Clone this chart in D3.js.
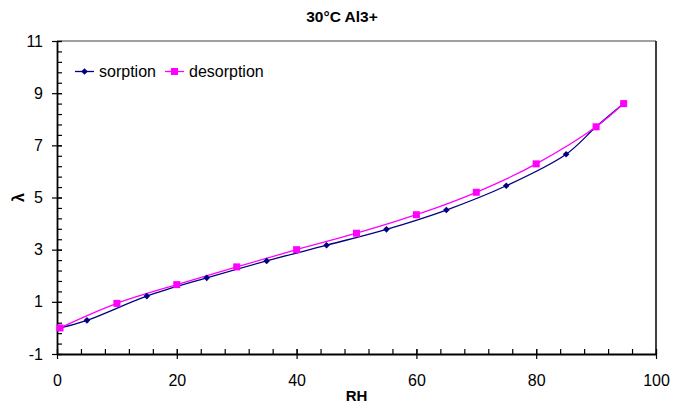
<!DOCTYPE html>
<html>
<head>
<meta charset="utf-8">
<script src="https://cdn.jsdelivr.net/npm/d3@7"></script>
<style>
  body { margin: 0; background: #fff; }
  svg { display: block; font-family: "Liberation Sans", Arial, sans-serif; }
</style>
</head>
<body>
<svg id="chart" width="690" height="410"></svg>
<script>
const title = "30°C Al3+";
const xLabel = "RH";
const yLabel = "λ";
const seriesNames = ["sorption", "desorption"];
const sorptionRH = [0.5, 5, 15, 25, 35, 45, 55, 65, 75, 85, 90, 94.6];
const sorptionL  = [0.0, 0.29, 1.22, 1.92, 2.57, 3.17, 3.78, 4.52, 5.45, 6.66, 7.71, 8.6];
const desorptionRH = [0.5, 10, 20, 30, 40, 50, 60, 70, 80, 90, 94.6];
const desorptionL  = [0.0, 0.94, 1.66, 2.34, 3.0, 3.63, 4.34, 5.2, 6.29, 7.71, 8.6];
const xTicks = [0, 20, 40, 60, 80, 100];
const yTicks = [-1, 1, 3, 5, 7, 9, 11];

const svg = d3.select("#chart");
const L = 57, R = 656, T = 41, B = 354;
const x = d3.scaleLinear().domain([0, 100]).range([L, R]);
const y = d3.scaleLinear().domain([-1, 11]).range([B, T]);

// frame: top gray, right black
svg.append("line").attr("x1", L).attr("x2", R).attr("y1", T).attr("y2", T)
  .attr("stroke", "#808080").attr("stroke-width", 1.5);
svg.append("line").attr("x1", R).attr("x2", R).attr("y1", T).attr("y2", B)
  .attr("stroke", "#000").attr("stroke-width", 1.5);

// minor ticks (inside)
const xMinor = d3.range(0, 100.001, 4);
const yMinor = d3.range(-1, 11.001, 0.4);
const xMinorAxis = d3.axisTop(x).tickValues(xMinor).tickSize(5).tickFormat("");
const gxm = svg.append("g").attr("transform", `translate(0,${B})`).call(xMinorAxis);
gxm.select(".domain").remove();
gxm.selectAll("line").attr("stroke", "#000").attr("stroke-width", 1.2);
const yMinorAxis = d3.axisRight(y).tickValues(yMinor).tickSize(5).tickFormat("");
const gym = svg.append("g").attr("transform", `translate(${L},0)`).call(yMinorAxis);
gym.select(".domain").remove();
gym.selectAll("line").attr("stroke", "#000").attr("stroke-width", 1.2);

// major axes (crossing ticks)
const fmt = d => String(d);
const xAxis = d3.axisBottom(x).tickValues(xTicks).tickSizeInner(5).tickSizeOuter(0).tickPadding(16).tickFormat(fmt);
const gx = svg.append("g").attr("transform", `translate(0,${B})`).call(xAxis);
gx.selectAll(".tick line").attr("y1", -5).attr("stroke", "#000").attr("stroke-width", 1.2);
gx.select(".domain").attr("stroke", "#000").attr("stroke-width", 1.8);
gx.selectAll("text").attr("font-size", 16).attr("fill", "#000").attr("font-family", "Liberation Sans, Arial, sans-serif");

const yAxis = d3.axisLeft(y).tickValues(yTicks).tickSizeInner(5).tickSizeOuter(0).tickPadding(9).tickFormat(fmt);
const gy = svg.append("g").attr("transform", `translate(${L},0)`).call(yAxis);
gy.selectAll(".tick line").attr("x1", 5).attr("stroke", "#000").attr("stroke-width", 1.2);
gy.select(".domain").attr("stroke", "#000").attr("stroke-width", 1.8);
gy.selectAll("text").attr("font-size", 16).attr("fill", "#000").attr("font-family", "Liberation Sans, Arial, sans-serif");

// series
const sorption = sorptionRH.map((v, i) => ({ x: v, y: sorptionL[i] }));
const desorption = desorptionRH.map((v, i) => ({ x: v, y: desorptionL[i] }));
const line = d3.line().x(d => x(d.x)).y(d => y(d.y)).curve(d3.curveCatmullRom.alpha(0.5));

const navy = "#000080", magenta = "#FF00FF";
svg.append("path").datum(sorption).attr("d", line).attr("fill", "none").attr("stroke", navy).attr("stroke-width", 1.3);
svg.append("path").datum(desorption).attr("d", line).attr("fill", "none").attr("stroke", magenta).attr("stroke-width", 1.3);

const diamond = d3.symbol().type(d3.symbolSquare).size(22);
svg.append("g").selectAll("path").data(sorption).join("path")
  .attr("d", diamond).attr("transform", d => `translate(${x(d.x)},${y(d.y)}) rotate(45)`).attr("fill", navy);
svg.append("g").selectAll("rect").data(desorption).join("rect")
  .attr("x", d => x(d.x) - 3.5).attr("y", d => y(d.y) - 3.5).attr("width", 7).attr("height", 7).attr("fill", magenta);

// legend
const lg = svg.append("g");
lg.append("line").attr("x1", 75).attr("x2", 94).attr("y1", 71.5).attr("y2", 71.5).attr("stroke", navy).attr("stroke-width", 1.3);
lg.append("path").attr("d", diamond).attr("transform", "translate(84.5,71.5) rotate(45)").attr("fill", navy);
lg.append("text").attr("x", 99).attr("y", 77).attr("font-size", 16).text(seriesNames[0]);
lg.append("line").attr("x1", 165).attr("x2", 184).attr("y1", 71.5).attr("y2", 71.5).attr("stroke", magenta).attr("stroke-width", 1.3);
lg.append("rect").attr("x", 171).attr("y", 68).attr("width", 7).attr("height", 7).attr("fill", magenta);
lg.append("text").attr("x", 189).attr("y", 77).attr("font-size", 16).text(seriesNames[1]);

// titles
svg.append("text").attr("x", 342).attr("y", 22).attr("text-anchor", "middle")
  .attr("font-size", 15.5).attr("font-weight", "bold").text(title);
svg.append("text").attr("x", 356.5).attr("y", 401).attr("text-anchor", "middle")
  .attr("font-size", 15).attr("font-weight", "bold").text(xLabel);
svg.append("text").attr("transform", "translate(24,197.5) rotate(-90)").attr("text-anchor", "middle")
  .attr("font-size", 16).attr("font-weight", "bold").text(yLabel);
</script>
</body>
</html>
